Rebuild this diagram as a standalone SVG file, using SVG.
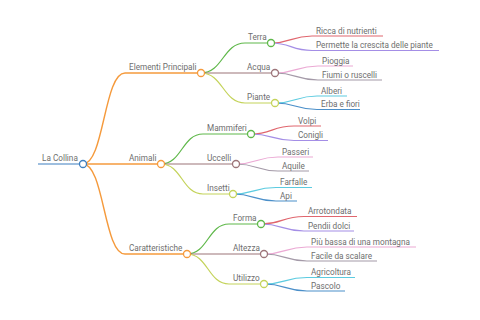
<svg xmlns="http://www.w3.org/2000/svg" width="480" height="320" viewBox="0 0 480 320">
<style>
text{font-family:Roboto,"Liberation Sans",sans-serif;font-size:8.2px;fill:#6e6e6e}
path{fill:none;stroke-width:1.2}
circle{fill:#fff;stroke-width:1.3}
.o{stroke:#f59a3c}.g{stroke:#5fb84a}.m{stroke:#9c7479}.y{stroke:#c4d35a}
.r{stroke:#e0666e}.p{stroke:#a48ee6}.k{stroke:#eba9d4}.s{stroke:#a49aa8}.c{stroke:#5ccbe0}.b{stroke:#4b8fc9}
.root{stroke:#3d7fc0}
</style>
<rect width="480" height="320" fill="#fff"/>
<g id="connectors">
<path class="root" d="M38,164H83" stroke-width="1.5"/>
<path class="o" d="M83,164C104,164 104,73 125,73H201" style="stroke-width:1.4"/>
<path class="o" d="M83,164H161" style="stroke-width:1.4"/>
<path class="o" d="M83,164C104,164 104,254 125,254H187" style="stroke-width:1.4"/>
<path class="g" d="M201,73C223,73 223,43 245,43H271"/>
<path class="m" d="M201,73H275"/>
<path class="y" d="M201,73C223,73 223,103 245,103H275"/>
<path class="g" d="M161,164C182,164 182,134 203,134H251"/>
<path class="m" d="M161,164H236"/>
<path class="y" d="M161,164C182,164 182,194 203,194H233"/>
<path class="g" d="M187,254C208,254 208,224 229,224H261"/>
<path class="m" d="M187,254H264"/>
<path class="y" d="M187,254C208,254 208,284 229,284H264"/>
<path class="r" d="M271,43C291,43 291,36 312,36H383"/>
<path class="p" d="M271,43C291,43 291,50.5 312,50.5H439"/>
<path class="k" d="M275,73C296,73 296,66 318,66H353"/>
<path class="s" d="M275,73C296,73 296,80 318,80H382"/>
<path class="c" d="M275,103C296,103 296,96 317,96H347"/>
<path class="b" d="M275,103C296,103 296,109.5 317,109.5H360"/>
<path class="r" d="M251,134C272,134 272,126 294,126H321"/>
<path class="p" d="M251,134C272,134 272,140.5 294,140.5H328"/>
<path class="k" d="M236,164C257,164 257,157 278,157H313"/>
<path class="s" d="M236,164C257,164 257,171 278,171H309"/>
<path class="c" d="M233,194C254,194 254,187.5 276,187.5H312"/>
<path class="b" d="M233,194C254,194 254,201 276,201H297"/>
<path class="r" d="M261,224C282,224 282,216.5 304,216.5H357"/>
<path class="p" d="M261,224C282,224 282,231 304,231H354"/>
<path class="k" d="M264,254C285,254 285,247 307,247H416"/>
<path class="s" d="M264,254C285,254 285,261 307,261H377"/>
<path class="c" d="M264,284C285,284 285,277.5 307,277.5H355"/>
<path class="b" d="M264,284C285,284 285,291 307,291H345"/>
</g>
<g id="root"><text x="42" y="161">La Collina</text><circle class="root" cx="83" cy="164" r="3.5"/></g>
<g id="elementi"><text x="129" y="70">Elementi Principali</text><circle class="o" cx="201" cy="73" r="3.5"/></g>
<g id="animali"><text x="129" y="161">Animali</text><circle class="o" cx="161" cy="164" r="3.5"/></g>
<g id="caratteristiche"><text x="129" y="251">Caratteristiche</text><circle class="o" cx="187" cy="254" r="3.5"/></g>
<g id="terra"><text x="248" y="40">Terra</text><circle class="g" cx="271" cy="43" r="3.5"/></g>
<g id="acqua"><text x="247" y="70">Acqua</text><circle class="m" cx="275" cy="73" r="3.5"/></g>
<g id="piante"><text x="247" y="100">Piante</text><circle class="y" cx="275" cy="103" r="3.5"/></g>
<g id="mammiferi"><text x="207" y="131">Mammiferi</text><circle class="g" cx="251" cy="134" r="3.5"/></g>
<g id="uccelli"><text x="207" y="161">Uccelli</text><circle class="m" cx="236" cy="164" r="3.5"/></g>
<g id="insetti"><text x="207" y="191">Insetti</text><circle class="y" cx="233" cy="194" r="3.5"/></g>
<g id="forma"><text x="233" y="221">Forma</text><circle class="g" cx="261" cy="224" r="3.5"/></g>
<g id="altezza"><text x="233" y="251">Altezza</text><circle class="m" cx="264" cy="254" r="3.5"/></g>
<g id="utilizzo"><text x="233" y="281">Utilizzo</text><circle class="y" cx="264" cy="284" r="3.5"/></g>
<g id="ricca"><text x="316" y="33.5">Ricca di nutrienti</text></g>
<g id="permette"><text x="316" y="48">Permette la crescita delle piante</text></g>
<g id="pioggia"><text x="322" y="63.5">Pioggia</text></g>
<g id="fiumi"><text x="322" y="77.5">Fiumi o ruscelli</text></g>
<g id="alberi"><text x="321" y="93.5">Alberi</text></g>
<g id="erba"><text x="321" y="107">Erba e fiori</text></g>
<g id="volpi"><text x="298" y="123.5">Volpi</text></g>
<g id="conigli"><text x="298" y="138">Conigli</text></g>
<g id="passeri"><text x="282" y="154.5">Passeri</text></g>
<g id="aquile"><text x="282" y="168.5">Aquile</text></g>
<g id="farfalle"><text x="280" y="185">Farfalle</text></g>
<g id="api"><text x="280" y="198.5">Api</text></g>
<g id="arrotondata"><text x="308" y="214">Arrotondata</text></g>
<g id="pendii"><text x="308" y="228.5">Pendii dolci</text></g>
<g id="piu"><text x="311" y="244.5">Più bassa di una montagna</text></g>
<g id="facile"><text x="311" y="258.5">Facile da scalare</text></g>
<g id="agricoltura"><text x="311" y="275">Agricoltura</text></g>
<g id="pascolo"><text x="311" y="288.5">Pascolo</text></g>
</svg>
